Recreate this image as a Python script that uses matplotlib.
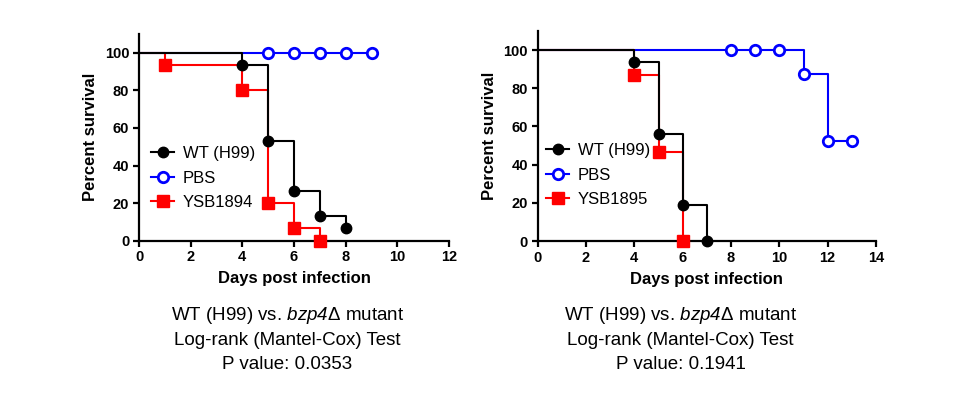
import matplotlib
matplotlib.use("Agg")
import matplotlib.pyplot as plt

plt.rcParams['font.family'] = ['Liberation Sans', 'DejaVu Sans']
plt.rcParams['mathtext.fontset'] = 'custom'
plt.rcParams['mathtext.rm'] = 'Liberation Sans:italic'
plt.rcParams['mathtext.it'] = 'Liberation Sans:italic'

# left panel: WT vs YSB1894
l_wt_days = [0, 4, 5, 6, 7, 8]
l_wt_surv = [100, 93.3, 53.3, 26.7, 13.3, 6.7]
l_pbs_days = [0, 9]
l_pbs_surv = [100, 100]
l_pbs_mark_days = [5, 6, 7, 8, 9]
l_pbs_mark_surv = [100, 100, 100, 100, 100]
l_mut_days = [0, 1, 4, 5, 6, 7]
l_mut_surv = [100, 93.3, 80, 20, 6.7, 0]
l_mut_label = 'YSB1894'
l_pvalue = '0.0353'

# right panel: WT vs YSB1895
r_wt_days = [0, 4, 5, 6, 7]
r_wt_surv = [100, 93.75, 56.25, 18.75, 0]
r_pbs_days = [0, 11, 12, 13]
r_pbs_surv = [100, 87.5, 52.5, 52.5]
r_pbs_mark_days = [8, 9, 10, 11, 12, 13]
r_pbs_mark_surv = [100, 100, 100, 87.5, 52.5, 52.5]
r_mut_days = [0, 4, 5, 6]
r_mut_surv = [100, 86.7, 46.7, 0]
r_mut_label = 'YSB1895'
r_pvalue = '0.1941'

BLUE = '#0000ff'
RED = '#ff0000'


def draw_panel(ax, wt, pbs, pbs_mark, mut, mut_label, xmax, legend_xy):
    # PBS first so WT covers the shared 100% segment
    ax.step(pbs[0], pbs[1], where='post', color=BLUE, lw=1.5, zorder=2)
    ax.plot(pbs_mark[0], pbs_mark[1], 'o', ms=7.5, mfc='white', mec=BLUE,
            mew=2, clip_on=False, zorder=4)
    ax.step(mut[0], mut[1], where='post', color=RED, lw=1.5, zorder=2)
    ax.plot(mut[0][1:], mut[1][1:], 's', ms=8, color=RED,
            clip_on=False, zorder=4)
    ax.step(wt[0], wt[1], where='post', color='black', lw=1.5, zorder=3)
    ax.plot(wt[0][1:], wt[1][1:], 'o', ms=7.5, color='black',
            clip_on=False, zorder=5)

    ax.set_xlim(0, xmax)
    ax.set_ylim(0, 110)
    ax.set_xticks(range(0, xmax + 1, 2))
    ax.set_yticks(range(0, 101, 20))
    for s in ['top', 'right']:
        ax.spines[s].set_visible(False)
    for s in ['left', 'bottom']:
        ax.spines[s].set_linewidth(1.6)
    ax.tick_params(direction='out', length=4, width=1.6, labelsize=10.5, pad=3)
    for lab in ax.get_xticklabels() + ax.get_yticklabels():
        lab.set_fontweight('bold')
    ax.set_xlabel('Days post infection', fontsize=12, fontweight='bold', labelpad=5)
    ax.set_ylabel('Percent survival', fontsize=12, fontweight='bold', labelpad=5)

    # legend handles show line + marker
    lw_, = ax.plot([], [], '-o', color='black', ms=7.5, lw=1.5)
    lp_, = ax.plot([], [], '-o', color=BLUE, mfc='white', mec=BLUE, mew=2, ms=7.5, lw=1.5)
    lm_, = ax.plot([], [], '-s', color=RED, ms=8, lw=1.5)
    ax.legend([lw_, lp_, lm_], ['WT (H99)', 'PBS', mut_label],
              loc='center left', bbox_to_anchor=legend_xy,
              bbox_transform=ax.figure.transFigure, frameon=False,
              fontsize=12, handlelength=1.4, handletextpad=0.5,
              labelspacing=0.55, borderpad=0, borderaxespad=0)


fig = plt.figure(figsize=(9.6, 4.15), dpi=100)
ax1 = fig.add_axes([139 / 960, 1 - 240.7 / 415, 310 / 960, 206.7 / 415])
ax2 = fig.add_axes([537.7 / 960, 1 - 241 / 415, 338.3 / 960, 210.1 / 415])

draw_panel(ax1, (l_wt_days, l_wt_surv), (l_pbs_days, l_pbs_surv),
           (l_pbs_mark_days, l_pbs_mark_surv), (l_mut_days, l_mut_surv),
           l_mut_label, 12, (151 / 960, 1 - 178 / 415))
draw_panel(ax2, (r_wt_days, r_wt_surv), (r_pbs_days, r_pbs_surv),
           (r_pbs_mark_days, r_pbs_mark_surv), (r_mut_days, r_mut_surv),
           r_mut_label, 14, (546 / 960, 1 - 175 / 415))

for cx, pv in [(287.5, l_pvalue), (680.5, r_pvalue)]:
    lines = [r'WT (H99) vs. $bzp4$Δ mutant',
             'Log-rank (Mantel-Cox) Test',
             'P value: ' + pv]
    for i, t in enumerate(lines):
        fig.text(cx / 960, 1 - (320 + 24.5 * i) / 415, t, ha='center',
                 va='baseline', fontsize=13.5)

fig.savefig('out.png', dpi=100)
